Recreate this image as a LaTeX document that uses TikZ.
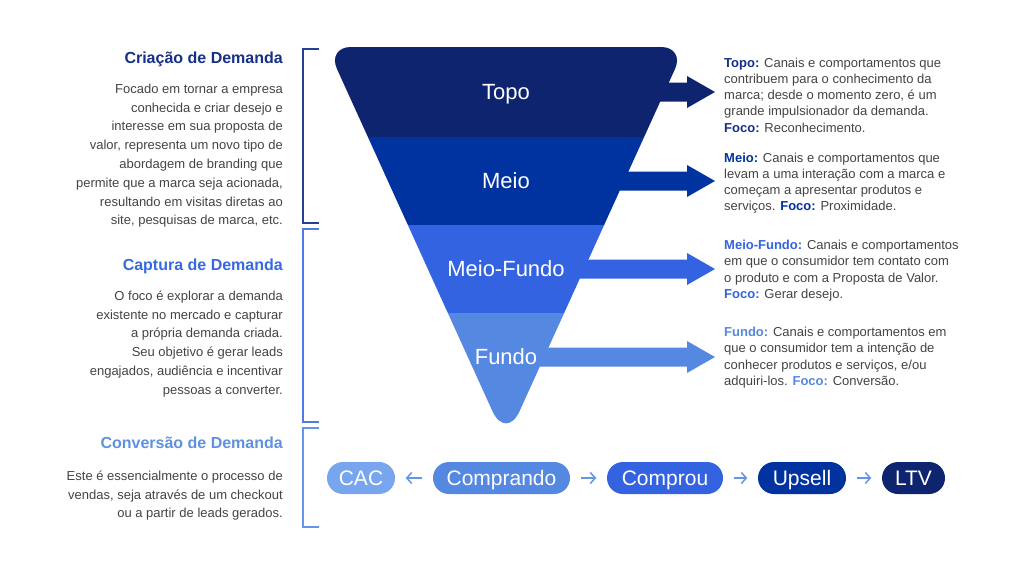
\documentclass[tikz,border=0pt]{standalone}
\usepackage{fontspec}
\setmainfont{Liberation Sans}
\usetikzlibrary{arrows.meta,calc}
\definecolor{topoC}{RGB}{14,36,110}
\definecolor{meioC}{RGB}{0,51,160}
\definecolor{mfC}{RGB}{51,99,225}
\definecolor{fundoC}{RGB}{85,136,224}
\definecolor{cacC}{RGB}{120,166,238}
\definecolor{arrowC}{RGB}{100,150,230}
\definecolor{textC}{RGB}{68,68,68}
\definecolor{headA}{RGB}{22,48,135}
\definecolor{headB}{RGB}{55,105,228}
\definecolor{headC}{RGB}{95,145,225}
\definecolor{brA}{RGB}{40,62,145}
\definecolor{brB}{RGB}{80,122,232}
\definecolor{brC}{RGB}{104,148,232}
\tikzset{
  heading/.style={anchor=base east, inner sep=0pt, font=\fontsize{16}{19}\selectfont\bfseries},
  leftbody/.style={anchor=north east, inner sep=0pt, align=right, text=textC, font=\fontsize{13}{18.8}\selectfont},
  rightbody/.style={anchor=north west, inner sep=0pt, align=left, text=textC, font=\fontsize{13}{16.2}\selectfont},
  stagelabel/.style={anchor=base, inner sep=0pt, text=white, font=\fontsize{22}{26}\selectfont},
  pill/.style={rounded corners=16pt, minimum height=32pt, inner sep=0pt, text height=15pt, text depth=0pt, text=white, font=\fontsize{21}{25}\selectfont},
  flowarrow/.style={-{Straight Barb[length=5pt,width=11pt]}, line width=1.5pt, draw=arrowC, shorten >=10.5pt, shorten <=10.5pt},
  bracketline/.style={line width=2pt},
}
\newcommand{\stagearrow}[2]{%
  \fill[#1] (506,#2-9.5) -- (687,#2-9.5) -- (687,#2-16) -- (715,#2) -- (687,#2+16) -- (687,#2+9.5) -- (506,#2+9.5) -- cycle;}
\begin{document}
\begin{tikzpicture}[x=1pt,y=-1pt]
\useasboundingbox (0,0) rectangle (1024,576);
\fill[white] (0,0) rectangle (1024,576);

% brackets
\draw[bracketline, brA] (319,49) -- (303,49) -- (303,223) -- (319,223);
\draw[bracketline, brB] (319,229) -- (303,229) -- (303,422) -- (319,422);
\draw[bracketline, brC] (319,428) -- (303,428) -- (303,527) -- (319,527);

% left texts
\node[heading, text=headA] (hcria) at (283,63) {Criação de Demanda};
\node[leftbody] (bcria) at (283,79.84) {\strut Focado em tornar a empresa\\conhecida e criar desejo e\\interesse em sua proposta de\\valor, representa um novo tipo de\\abordagem de branding que\\permite que a marca seja acionada,\\resultando em visitas diretas ao\\site, pesquisas de marca, etc.};
\node[heading, text=headB] (hcapt) at (283,270) {Captura de Demanda};
\node[leftbody] (bcapt) at (283,286.84) {\strut O foco é explorar a demanda\\existente no mercado e capturar\\a própria demanda criada.\\Seu objetivo é gerar leads\\engajados, audiência e incentivar\\pessoas a converter.};
\node[heading, text=headC] (hconv) at (283,448) {Conversão de Demanda};
\node[leftbody] (bconv) at (283,466.84) {\strut Este é essencialmente o processo de\\vendas, seja através de um checkout\\ou a partir de leads gerados.};

% stage arrows
\stagearrow{topoC}{92}
\stagearrow{meioC}{181}
\stagearrow{mfC}{269}
\stagearrow{fundoC}{357}

% funnel
\begin{scope}
\clip (506,47) -- (661,47) .. controls (674.2,47) and (680.53,56.83) .. (675.07,68.85)
  -- (519.65,410.96) .. controls (512.14,427.48) and (499.86,427.48) .. (492.35,410.96)
  -- (336.93,68.85) .. controls (331.47,56.83) and (337.8,47) .. (351,47) -- cycle;
\fill[topoC] (300,40) rectangle (720,137);
\fill[meioC] (300,137) rectangle (720,225);
\fill[mfC] (300,225) rectangle (720,313);
\fill[fundoC] (300,313) rectangle (720,450);
\end{scope}
\node[stagelabel] (ltopo) at (506,99) {Topo};
\node[stagelabel] (lmeio) at (506,188) {Meio};
\node[stagelabel] (lmf) at (506,276) {Meio-Fundo};
\node[stagelabel] (lfundo) at (506,364) {Fundo};

% right texts
\node[rightbody] (rtopo) at (724,55.66) {\strut\textcolor{headA}{\bfseries Topo:} Canais e comportamentos que\\contribuem para o conhecimento da\\marca; desde o momento zero, é um\\grande impulsionador da demanda.\\\textcolor{headA}{\bfseries Foco:} Reconhecimento.};
\node[rightbody] (rmeio) at (724,150.66) {\strut\textcolor{meioC}{\bfseries Meio:} Canais e comportamentos que\\levam a uma interação com a marca e\\começam a apresentar produtos e\\serviços. \textcolor{meioC}{\bfseries Foco:} Proximidade.};
\node[rightbody] (rmf) at (724,238.16) {\strut\textcolor{mfC}{\bfseries Meio-Fundo:} Canais e comportamentos\\em que o consumidor tem contato com\\o produto e com a Proposta de Valor.\\\textcolor{mfC}{\bfseries Foco:} Gerar desejo.};
\node[rightbody] (rfundo) at (724,325.16) {\strut\textcolor{fundoC}{\bfseries Fundo:} Canais e comportamentos em\\que o consumidor tem a intenção de\\conhecer produtos e serviços, e/ou\\adquiri-los. \textcolor{fundoC}{\bfseries Foco:} Conversão.};

% bottom pills
\node[pill, fill=cacC, minimum width=68pt] (cac) at (361,478) {CAC};
\node[pill, fill=fundoC, minimum width=137pt] (comprando) at (501.5,478) {Comprando};
\node[pill, fill=mfC, minimum width=116pt] (comprou) at (665,478) {Comprou};
\node[pill, fill=meioC, minimum width=88pt] (upsell) at (802,478) {Upsell};
\node[pill, fill=topoC, minimum width=63pt] (ltv) at (913.5,478) {LTV};
\draw[flowarrow] (comprando) -- (cac);
\draw[flowarrow] (comprando) -- (comprou);
\draw[flowarrow] (comprou) -- (upsell);
\draw[flowarrow] (upsell) -- (ltv);
\end{tikzpicture}
\end{document}
